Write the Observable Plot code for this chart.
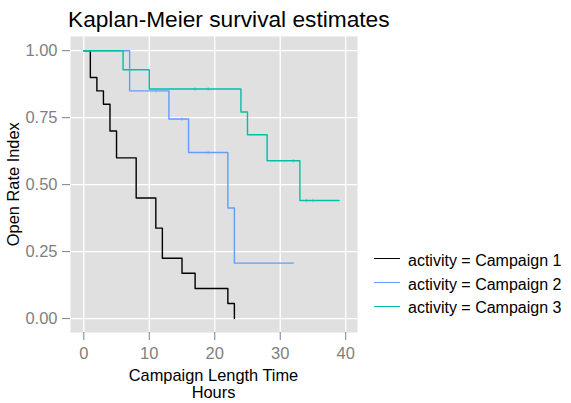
<!DOCTYPE html>
<html><head><meta charset="utf-8">
<script src="https://cdn.jsdelivr.net/npm/d3@7"></script>
<script src="https://cdn.jsdelivr.net/npm/@observablehq/plot@0.6"></script>
<style>
body{margin:0;background:#fff;font-family:"Liberation Sans",Arial,Helvetica,sans-serif;}
#wrap{position:relative;width:571px;height:403px;overflow:hidden;background:#fff;}
#title{position:absolute;left:68px;top:7.5px;font-size:22.7px;line-height:22.7px;color:#000;white-space:nowrap;}
#plot{position:absolute;left:0;top:30px;}
#ylab{position:absolute;left:-87px;top:176px;width:200px;text-align:center;font-size:16.4px;line-height:16.4px;transform:rotate(-90deg);transform-origin:center;white-space:nowrap;}
#xlab{position:absolute;left:113.5px;top:367px;width:200px;text-align:center;font-size:16.4px;line-height:17px;white-space:nowrap;}
#legend{position:absolute;left:374px;top:249px;font-size:16px;}
.row{display:flex;align-items:center;height:23.8px;white-space:nowrap;}
.swatch{width:26px;height:0;border-top:1.5px solid #000;margin-right:8px;position:relative;top:-2px;}
</style></head>
<body><div id="wrap">
<div id="title">Kaplan-Meier survival estimates</div>
<div id="plot"></div>
<div id="ylab">Open Rate Index</div>
<div id="xlab">Campaign Length Time<br>Hours</div>
<div id="legend"></div>
</div>
<script>
const seriesNames = ["Campaign 1", "Campaign 2", "Campaign 3"];
const seriesColors = ["#000000", "#619CFF", "#00C0A3"];

const c1Time = [0, 1, 2, 3, 4, 5, 8, 11, 12, 15, 17, 22, 23];
const c1Surv = [1, 0.90, 0.85, 0.80, 0.70, 0.60, 0.45, 0.3375, 0.225, 0.169, 0.1125, 0.056, 0];
const c1CensorTime = [];
const c1CensorSurv = [];

const c2Time = [0, 7, 13, 16, 22, 23, 32];
const c2Surv = [1, 0.85, 0.745, 0.62, 0.413, 0.207, 0.207];
const c2CensorTime = [11, 15, 19];
const c2CensorSurv = [0.85, 0.745, 0.62];

const c3Time = [0, 6, 10, 24, 25, 28, 33, 39];
const c3Surv = [1, 0.929, 0.857, 0.771, 0.686, 0.589, 0.441, 0.441];
const c3CensorTime = [17, 19, 32, 34, 35];
const c3CensorSurv = [0.857, 0.857, 0.589, 0.441, 0.441];

const xTicks = [0, 10, 20, 30, 40];
const yTicks = [0, 0.25, 0.5, 0.75, 1];

const times = [c1Time, c2Time, c3Time];
const survs = [c1Surv, c2Surv, c3Surv];
const cTimes = [c1CensorTime, c2CensorTime, c3CensorTime];
const cSurvs = [c1CensorSurv, c2CensorSurv, c3CensorSurv];

const lineData = [];
const censorData = [];
seriesNames.forEach((s, i) => {
  times[i].forEach((t, j) => lineData.push({series: s, time: t, surv: survs[i][j]}));
  cTimes[i].forEach((t, j) => censorData.push({series: s, time: t, surv: cSurvs[i][j]}));
});

const vbar = {draw(ctx, size) { const r = Math.sqrt(size / Math.PI); ctx.moveTo(0, -r); ctx.lineTo(0, r); }};

const chart = Plot.plot({
  width: 571,
  height: 335,
  marginLeft: 70,
  marginRight: 214,
  marginTop: 6,
  marginBottom: 33,
  style: {fontFamily: '"Liberation Sans", Arial, Helvetica, sans-serif', fontSize: "16.5px", color: "#7f7f7f", background: "transparent", overflow: "visible"},
  x: {domain: [-2.03, 41.8]},
  y: {domain: [-0.052, 1.053]},
  color: {domain: seriesNames, range: seriesColors},
  marks: [
    Plot.frame({fill: "#e0e0e0", stroke: null}),
    Plot.gridX(xTicks, {stroke: "white", strokeOpacity: 1, strokeWidth: 1.3}),
    Plot.gridY(yTicks, {stroke: "white", strokeOpacity: 1, strokeWidth: 1.3}),
    Plot.axisX(xTicks, {tickSize: 8, tickPadding: 6.5, label: null, stroke: "#7f7f7f", fill: "#7f7f7f", fontSize: 16.5}),
    Plot.axisY(yTicks, {tickSize: 8, tickPadding: 5, label: null, tickFormat: d3.format(".2f"), stroke: "#7f7f7f", fill: "#7f7f7f", fontSize: 16.5}),
    Plot.line(lineData, {x: "time", y: "surv", z: "series", stroke: "series", curve: "step-after", strokeWidth: 1.4}),
    Plot.dot(censorData, {x: "time", y: "surv", stroke: "series", symbol: vbar, r: 1.8, strokeWidth: 1, strokeOpacity: 0.5})
  ]
});
document.getElementById("plot").appendChild(chart);

const legend = document.getElementById("legend");
seriesNames.forEach((s, i) => {
  const row = document.createElement("div");
  row.className = "row";
  const sw = document.createElement("span");
  sw.className = "swatch";
  sw.style.borderTopColor = seriesColors[i];
  const tx = document.createElement("span");
  tx.textContent = "activity = " + s;
  row.appendChild(sw);
  row.appendChild(tx);
  legend.appendChild(row);
});
</script>
</body></html>
